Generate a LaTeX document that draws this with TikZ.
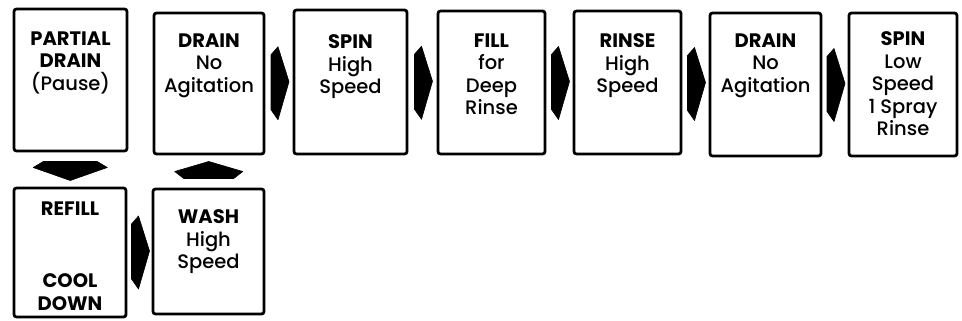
\documentclass[tikz,border=0pt]{standalone}
\usepackage{fontspec}
\setmainfont{Poppins}[UprightFont={* Medium}, BoldFont={* Bold}]
\usetikzlibrary{calc}
\tikzset{
  stage/.style={draw=black, line width=2.8pt, rounded corners=2.5pt, fill=white, inner sep=0pt},
  stagetext/.style={anchor=north, align=center, inner sep=0pt, font=\fontsize{19.5}{22.5}\selectfont},
  blockarrow/.style={fill=black, draw=black, line width=0.6pt, line join=round}
}
\newcommand{\stagebox}[5]{%
  \node[stage, minimum width={#4pt-#2pt}, minimum height={#5pt-#3pt}] (#1) at ({(#2+#4)/2},{(#3+#5)/2}) {};}
\newcommand{\rightblock}[2]{%
  \coordinate (m) at ($(#1.east)!0.5!(#2.west)$);
  \path[blockarrow] ($(m)+(-8,-28)$) -- ($(m)+(-1,-36)$) -- ($(m)+(10,-1)$) -- ($(m)+(-1,37)$) -- ($(m)+(-8,27)$) -- cycle;}
\begin{document}
\begin{tikzpicture}[x=1pt,y=-1pt]
\useasboundingbox (0,0) rectangle (962,321);
\stagebox{b1}{14}{9}{127}{151}
\stagebox{b2}{154}{13}{264}{154}
\stagebox{b3}{294}{10}{407}{154}
\stagebox{b4}{438}{11}{545}{154}
\stagebox{b5}{574}{11}{681}{154}
\stagebox{b6}{710}{13}{821}{156}
\stagebox{b7}{849}{13}{957}{156}
\stagebox{r1}{14}{188}{126}{317}
\stagebox{r2}{153}{189}{264}{314}

\node[stagetext] (t1) at (70.5,31.5) {\textbf{PARTIAL}\\\textbf{DRAIN}\\(Pause)};
\node[stagetext] (t2) at (209,33.5) {\textbf{DRAIN}\\No\\Agitation};
\node[stagetext] (t3) at (350.5,34.5) {\textbf{SPIN}\\High\\Speed};
\node[stagetext] (t4) at (491.5,33.5) {\textbf{FILL}\\for\\Deep\\Rinse};
\node[stagetext] (t5) at (627.5,33.5) {\textbf{RINSE}\\High\\Speed};
\node[stagetext] (t6) at (765.5,33.5) {\textbf{DRAIN}\\No\\Agitation};
\node[stagetext] (t7) at (903,31.5) {\textbf{SPIN}\\Low\\Speed\\1 Spray\\Rinse};
\node[stagetext] (t8) at (70,201.5) {\textbf{REFILL}};
\node[stagetext] (t9) at (70,273.5) {\textbf{COOL}\\\textbf{DOWN}};
\node[stagetext] (t10) at (208.5,209.5) {\textbf{WASH}\\High\\Speed};

\rightblock{b2}{b3}
\rightblock{b3}{b4}
\rightblock{b4}{b5}
\rightblock{b5}{b6}
\rightblock{b6}{b7}
\rightblock{r1}{r2}

% down arrow from b1 to r1
\coordinate (md) at ($(b1.south)!0.5!(r1.north)$);
\path[blockarrow] ($(md)+(-27,-8)$) -- ($(md)+(27,-8)$) -- ($(md)+(37,-2)$) -- ($(md)+(0,11)$) -- ($(md)+(-37,-2)$) -- cycle;
% up arrow from r2 to b2
\coordinate (mu) at ($(r2.north)!0.5!(b2.south)$);
\path[blockarrow] ($(mu)+(0,-10)$) -- ($(mu)+(34,0)$) -- ($(mu)+(25,7)$) -- ($(mu)+(-25,7)$) -- ($(mu)+(-34,0)$) -- cycle;
\end{tikzpicture}
\end{document}
